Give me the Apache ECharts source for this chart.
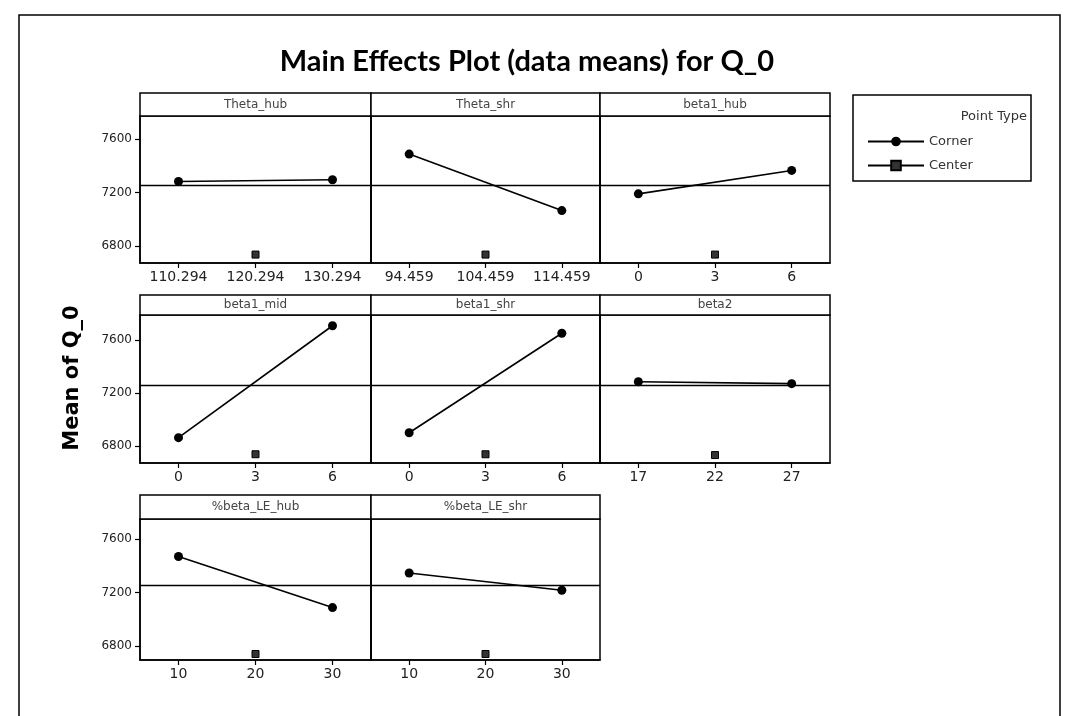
<!DOCTYPE html>
<html>
<head>
<meta charset="utf-8">
<script src="https://cdn.jsdelivr.net/npm/echarts@6/dist/echarts.min.js"></script>
<style>
  html, body { margin: 0; padding: 0; background: #fff; }
  #chart { width: 1067px; height: 716px; }
</style>
</head>
<body>
<div id="chart"></div>
<script>
// ---------------- data ----------------
const chartTitle = 'Main Effects Plot (data means) for Q_0';
const yAxisTitle = 'Mean of Q_0';
const factors = ['Theta_hub', 'Theta_shr', 'beta1_hub', 'beta1_mid', 'beta1_shr', 'beta2', '%beta_LE_hub', '%beta_LE_shr'];
const levelLabels = [
  ['110.294', '120.294', '130.294'],
  ['94.459', '104.459', '114.459'],
  ['0', '3', '6'],
  ['0', '3', '6'],
  ['0', '3', '6'],
  ['17', '22', '27'],
  ['10', '20', '30'],
  ['10', '20', '30']
];
const cornerLow  = [7282, 7487, 7190, 6863, 6900, 7285, 7469, 7346];
const cornerHigh = [7295, 7065, 7365, 7708, 7651, 7271, 7087, 7217];
const centerMean = [6736, 6736, 6736, 6738, 6738, 6732, 6740, 6740];
const grandMean = 7257;
const yTickValues = [6800, 7200, 7600];
const yTickLabels = ['6800', '7200', '7600'];
const legendNames = ['Corner', 'Center'];
const legendTitle = 'Point Type';

// ---------------- layout ----------------
const colLeft = [140, 371, 600];
const colRight = [371, 600, 830];
const rows = [
  { headTop: 93,  top: 116, bottom: 263, yMin: 6673, yMax: 7772 },
  { headTop: 295, top: 315, bottom: 463, yMin: 6672, yMax: 7789 },
  { headTop: 495, top: 519, bottom: 660, yMin: 6695, yMax: 7750 }
];

const grids = [], xAxes = [], yAxes = [], series = [], graphics = [];

// outer frame
graphics.push({ type: 'rect', shape: { x: 19, y: 15, width: 1041, height: 730 },
  style: { fill: 'none', stroke: '#000', lineWidth: 1.5 }, z: 0 });
// title
graphics.push({ type: 'text', x: 527, y: 62,
  style: { text: chartTitle, font: 'bold 29px Lato', fill: '#000', textAlign: 'center', textVerticalAlign: 'middle', align: 'center', verticalAlign: 'middle' } });
// y title
graphics.push({ type: 'text', x: 73, y: 378, rotation: Math.PI / 2,
  style: { text: yAxisTitle, font: 'bold 21px "DejaVu Sans"', fill: '#000', textAlign: 'center', textVerticalAlign: 'middle', align: 'center', verticalAlign: 'middle' } });
// legend box
graphics.push({ type: 'rect', shape: { x: 853, y: 95, width: 178, height: 86 },
  style: { fill: '#fff', stroke: '#000', lineWidth: 1.5 }, z: 0 });
graphics.push({ type: 'text', x: 1027, y: 117,
  style: { text: legendTitle, font: '13px "DejaVu Sans"', fill: '#333', textAlign: 'right', textVerticalAlign: 'middle', align: 'right', verticalAlign: 'middle' } });

factors.forEach((f, i) => {
  const r = Math.floor(i / 3), c = i % 3;
  const row = rows[r];
  const left = colLeft[c], width = colRight[c] - colLeft[c];
  grids.push({ left: left, top: row.top, width: width, height: row.bottom - row.top,
    show: true, borderColor: '#000', borderWidth: 1.5, backgroundColor: 'transparent' });
  xAxes.push({
    type: 'category', gridIndex: i, data: levelLabels[i], boundaryGap: true,
    axisLine: { show: true, lineStyle: { color: '#000', width: 1.5 } },
    axisTick: { show: true, alignWithLabel: true, length: 5, lineStyle: { color: '#000', width: 1.2 } },
    axisLabel: { color: '#222', fontSize: 14, fontFamily: 'DejaVu Sans', margin: 7 },
    splitLine: { show: false }
  });
  yAxes.push({
    type: 'value', gridIndex: i, min: row.yMin, max: row.yMax,
    axisLine: { show: true, lineStyle: { color: '#000', width: 1.5 } },
    axisTick: { show: c === 0, customValues: yTickValues, length: 5, lineStyle: { color: '#000', width: 1.2 } },
    axisLabel: { show: c === 0, customValues: yTickValues, color: '#222', fontSize: 12, fontFamily: 'DejaVu Sans', margin: 8,
      formatter: v => yTickLabels[yTickValues.indexOf(v)] ?? '' },
    splitLine: { show: false }
  });
  // header strip
  graphics.push({ type: 'rect', shape: { x: left, y: row.headTop, width: width, height: row.top - row.headTop },
    style: { fill: '#fff', stroke: '#000', lineWidth: 1.5 } });
  graphics.push({ type: 'text', x: left + width / 2, y: (row.headTop + row.top) / 2,
    style: { text: f, font: '12px "DejaVu Sans"', fill: '#444', textAlign: 'center', textVerticalAlign: 'middle', align: 'center', verticalAlign: 'middle' } });

  series.push({
    name: legendNames[0], type: 'line', xAxisIndex: i, yAxisIndex: i,
    data: [cornerLow[i], null, cornerHigh[i]], connectNulls: true,
    symbol: 'circle', symbolSize: 9, showAllSymbol: true,
    itemStyle: { color: '#000' }, lineStyle: { color: '#000', width: 1.6 },
    markLine: { silent: true, symbol: 'none', label: { show: false },
      lineStyle: { color: '#000', type: 'solid', width: 1.3 }, data: [{ yAxis: grandMean }] },
    z: 3
  });
  series.push({
    name: legendNames[1], type: 'line', xAxisIndex: i, yAxisIndex: i,
    data: [null, centerMean[i], null],
    symbol: 'rect', symbolSize: 7, showAllSymbol: true,
    itemStyle: { color: '#333', borderColor: '#000', borderWidth: 1 }, lineStyle: { color: '#000', width: 1 },
    z: 3
  });
});

const chart = echarts.init(document.getElementById('chart'), null, { renderer: 'canvas' });
chart.setOption({
  animation: false,
  backgroundColor: '#fff',
  grid: grids, xAxis: xAxes, yAxis: yAxes, series: series,
  legend: {
    data: [
      { name: legendNames[0], itemStyle: { color: '#000' } },
      { name: legendNames[1] }
    ],
    orient: 'vertical', left: 862, top: 130,
    itemWidth: 56, itemHeight: 12, itemGap: 11,
    textStyle: { fontSize: 13, color: '#333', fontFamily: 'DejaVu Sans' }
  },
  graphic: { elements: graphics }
});
</script>
</body>
</html>
